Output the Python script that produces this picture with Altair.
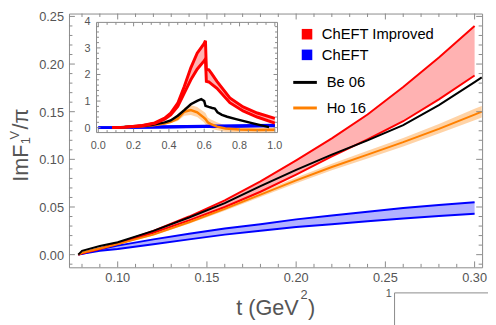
import altair as alt
import pandas as pd

# ---------------- main panel data ----------------
main_t  = [0.0779, 0.08, 0.09, 0.10, 0.12, 0.14, 0.16, 0.18, 0.20, 0.22, 0.24, 0.26, 0.28, 0.30]
red_hi  = [0, 0.0015, 0.0065, 0.012, 0.025, 0.040, 0.057, 0.077, 0.099, 0.122, 0.147, 0.176, 0.207, 0.240]
red_lo  = [0, 0.0015, 0.0060, 0.011, 0.023, 0.036, 0.050, 0.066, 0.084, 0.103, 0.121, 0.140, 0.163, 0.188]
blue_hi = [0, 0.0010, 0.0055, 0.0095, 0.016, 0.022, 0.0275, 0.032, 0.037, 0.041, 0.045, 0.049, 0.052, 0.055]
blue_lo = [0, 0.0010, 0.0040, 0.0060, 0.011, 0.016, 0.021, 0.025, 0.029, 0.032, 0.035, 0.038, 0.0405, 0.043]

line_t    = [0.0779, 0.08, 0.09, 0.10, 0.12, 0.14, 0.16, 0.18, 0.20, 0.22, 0.24, 0.26, 0.28, 0.30, 0.304]
black     = [0, 0.004, 0.009, 0.013, 0.025, 0.039, 0.054, 0.072, 0.089, 0.105, 0.120, 0.136, 0.157, 0.181, 0.186]
orange    = [0, 0.002, 0.0065, 0.011, 0.021, 0.034, 0.048, 0.063, 0.078, 0.092, 0.105, 0.118, 0.132, 0.147, 0.150]
orange_hi = [0, 0.0021, 0.0068, 0.0115, 0.022, 0.0355, 0.050, 0.0655, 0.081, 0.0955, 0.109, 0.1225, 0.137, 0.153, 0.156]
orange_lo = [0, 0.0019, 0.0062, 0.0105, 0.020, 0.0325, 0.046, 0.0605, 0.075, 0.0885, 0.101, 0.1135, 0.127, 0.141, 0.144]

main_xmaj = [0.10, 0.15, 0.20, 0.25, 0.30]
main_xmin = [0.08, 0.09, 0.11, 0.12, 0.13, 0.14, 0.16, 0.17, 0.18, 0.19,
             0.21, 0.22, 0.23, 0.24, 0.26, 0.27, 0.28, 0.29]
main_ymaj = [0.00, 0.05, 0.10, 0.15, 0.20, 0.25]
main_ymin = [-0.01, 0.01, 0.02, 0.03, 0.04, 0.06, 0.07, 0.08, 0.09, 0.11, 0.12, 0.13, 0.14,
             0.16, 0.17, 0.18, 0.19, 0.21, 0.22, 0.23, 0.24]
main_xlabels = ["0.10", "0.15", "0.20", "0.25", "0.30"]
main_ylabels = ["0.00", "0.05", "0.10", "0.15", "0.20", "0.25"]

legend_labels = ["ChEFT Improved", "ChEFT", "Be 06", "Ho 16"]

# ---------------- inset data ----------------
in_red_t  = [0.078, 0.15, 0.25, 0.32, 0.376, 0.41, 0.45, 0.487, 0.524, 0.56, 0.598, 0.607,
             0.612, 0.626, 0.64, 0.672, 0.745, 0.82, 0.90, 1.0]
in_red_hi = [0, 0.02, 0.08, 0.18, 0.36, 0.55, 0.92, 1.55, 2.25, 2.80, 3.15, 3.27,
             2.20, 2.18, 2.05, 1.74, 1.12, 0.78, 0.55, 0.35]
in_red_lo = [0, 0.02, 0.07, 0.16, 0.32, 0.48, 0.80, 1.30, 1.80, 2.20, 2.50, 2.58,
             1.74, 1.72, 1.65, 1.48, 0.94, 0.63, 0.40, 0.17]

in_blue_t  = [0.0, 0.078, 0.2, 0.4, 0.6, 0.8, 1.0]
in_blue_hi = [0, 0, 0.015, 0.035, 0.055, 0.075, 0.095]
in_blue_lo = [0, 0, 0.010, 0.025, 0.040, 0.055, 0.070]

in_black_t = [0.078, 0.2, 0.3, 0.376, 0.41, 0.45, 0.487, 0.524, 0.56, 0.583, 0.6, 0.607,
              0.625, 0.645, 0.66, 0.675, 0.7, 0.73, 0.78, 0.876, 0.967]
in_black   = [0, 0.04, 0.10, 0.20, 0.27, 0.45, 0.66, 0.88, 1.01, 1.07, 1.0, 0.82,
              0.78, 0.74, 0.72, 0.58, 0.48, 0.41, 0.32, 0.16, 0.02]

in_or_t  = [0.078, 0.2, 0.3, 0.376, 0.41, 0.45, 0.487, 0.524, 0.56, 0.598, 0.607, 0.62,
            0.635, 0.672, 0.72, 0.8, 0.9, 1.0]
in_or    = [0, 0.03, 0.08, 0.15, 0.22, 0.34, 0.60, 0.66, 0.58, 0.38, 0.32, 0.20,
            0.14, 0.04, -0.03, -0.07, -0.09, -0.08]
in_or_hi = [0, 0.035, 0.095, 0.18, 0.27, 0.44, 0.75, 0.85, 0.78, 0.60, 0.55, 0.38,
            0.32, 0.20, 0.08, 0.02, 0.0, 0.0]
in_or_lo = [0, 0.025, 0.065, 0.12, 0.17, 0.25, 0.45, 0.48, 0.40, 0.20, 0.12, 0.04,
            -0.02, -0.10, -0.15, -0.17, -0.18, -0.17]

in_xlab = [0.0, 0.2, 0.4, 0.6, 0.8, 1.0]
in_xlabels = ["0.0", "0.2", "0.4", "0.6", "0.8", "1.0"]
in_xmin = [0.05, 0.1, 0.15, 0.25, 0.3, 0.35, 0.45, 0.5, 0.55, 0.65, 0.7, 0.75, 0.85, 0.9, 0.95]
in_ylab = [0, 1, 2, 3, 4]
in_ylabels = ["0", "1", "2", "3", "4"]
in_ymaj = [0, 1, 2, 3]
in_ymin = [0.2, 0.4, 0.6, 0.8, 1.2, 1.4, 1.6, 1.8, 2.2, 2.4, 2.6, 2.8, 3.2, 3.4, 3.6, 3.8]

# ---------------- layout & styles ----------------
RED, BLUE, ORANGE = "#FF0000", "#0000FF", "#FF8000"
FRAME, LABEL = "#8a8a8a", "#555555"
PL, PT = 62, 3            # plot area starts at page (70, 11)
W, H = 420, 258


def ax(x):  # page x -> plot x
    return x - (8 + PL)


def ay(y):  # page y -> plot y
    return y - (8 + PT)


IX0, IX1, IY0, IY1 = ax(98), ax(282), ay(20), ay(132)

main_xs = alt.Scale(domain=[0.0727, 0.3042], nice=False, zero=False)
main_ys = alt.Scale(domain=[-0.0133, 0.253], nice=False, zero=False)
in_xs = alt.Scale(domain=[-0.01, 1.015], range=[IX0, IX1], nice=False, zero=False)
in_ys = alt.Scale(domain=[-0.185, 3.96], range=[IY1, IY0], nice=False, zero=False)

main_df = pd.DataFrame({"t": main_t, "red_hi": red_hi, "red_lo": red_lo,
                        "blue_hi": blue_hi, "blue_lo": blue_lo})
line_df = pd.DataFrame({"t": line_t, "black": black, "orange": orange,
                        "orange_hi": orange_hi, "orange_lo": orange_lo})
one = pd.DataFrame({"k": [0]})


def X(f, s):
    return alt.X(f"{f}:Q", scale=s, axis=None)


def Y(f, s):
    return alt.Y(f"{f}:Q", scale=s, axis=None)


def tick_rules(xmaj, xmin, ymaj, ymin, xs, ys, x0, x1, y0, y1, lmaj, lmin):
    out = []
    for vals, L in ((xmaj, lmaj), (xmin, lmin)):
        base = alt.Chart(pd.DataFrame({"v": vals})).mark_rule(color=FRAME, strokeWidth=1)
        out.append(base.encode(x=X("v", xs), y=alt.value(y1), y2=alt.value(y1 - L)))
        out.append(base.encode(x=X("v", xs), y=alt.value(y0), y2=alt.value(y0 + L)))
    for vals, L in ((ymaj, lmaj), (ymin, lmin)):
        base = alt.Chart(pd.DataFrame({"v": vals})).mark_rule(color=FRAME, strokeWidth=1)
        out.append(base.encode(y=Y("v", ys), x=alt.value(x0), x2=alt.value(x0 + L)))
        out.append(base.encode(y=Y("v", ys), x=alt.value(x1), x2=alt.value(x1 - L)))
    return out


def xlabels(vals, labs, xs, ybase, size):
    df = pd.DataFrame({"v": vals, "lab": labs})
    return alt.Chart(df).mark_text(align="center", baseline="alphabetic", fontSize=size,
                                   color=LABEL).encode(x=X("v", xs), y=alt.value(ybase), text="lab:N")


def ylabels(vals, labs, ys, xright, size, dy):
    df = pd.DataFrame({"v": vals, "lab": labs})
    return alt.Chart(df).mark_text(align="right", baseline="middle", fontSize=size, dy=dy,
                                   color=LABEL).encode(y=Y("v", ys), x=alt.value(xright), text="lab:N")


def txt(s, x, y, size, color=LABEL, align="left", baseline="alphabetic", angle=0):
    return alt.Chart(one).mark_text(align=align, baseline=baseline, fontSize=size, color=color,
                                    angle=angle).encode(
        x=alt.value(x), y=alt.value(y), text=alt.value(s))


# ---------------- main layers ----------------
red_area = alt.Chart(main_df).mark_area(color=RED, opacity=0.3).encode(
    x=X("t", main_xs), y=Y("red_lo", main_ys), y2="red_hi:Q")
blue_area = alt.Chart(main_df).mark_area(color=BLUE, opacity=0.3).encode(
    x=X("t", main_xs), y=Y("blue_lo", main_ys), y2="blue_hi:Q")
or_area = alt.Chart(line_df).mark_area(color=ORANGE, opacity=0.35).encode(
    x=X("t", main_xs), y=Y("orange_lo", main_ys), y2="orange_hi:Q")


def mline(df, f, color, w):
    return alt.Chart(df).mark_line(color=color, strokeWidth=w).encode(
        x=X("t", main_xs), y=Y(f, main_ys))


main_layers = [red_area, blue_area, or_area,
               mline(main_df, "blue_hi", BLUE, 2), mline(main_df, "blue_lo", BLUE, 2),
               mline(main_df, "red_hi", RED, 2), mline(main_df, "red_lo", RED, 2),
               mline(line_df, "orange", ORANGE, 2), mline(line_df, "black", "black", 2)]
main_layers += tick_rules(main_xmaj, main_xmin, main_ymaj, main_ymin, main_xs, main_ys,
                          0, W, 0, H, 6, 3.5)
main_layers += [xlabels(main_xmaj, main_xlabels, main_xs, ay(284), 13),
                ylabels(main_ymaj, main_ylabels, main_ys, ax(65), 13, 1)]

# legend
leg = alt.Chart(one)
main_layers += [
    leg.mark_square(size=115, color=RED, opacity=1).encode(x=alt.value(ax(312)), y=alt.value(ay(32))),
    leg.mark_square(size=115, color=BLUE, opacity=1).encode(x=alt.value(ax(312)), y=alt.value(ay(53))),
    leg.mark_rule(color="black", strokeWidth=3).encode(
        x=alt.value(ax(298)), x2=alt.value(ax(322)), y=alt.value(ay(81))),
    leg.mark_rule(color=ORANGE, strokeWidth=3).encode(
        x=alt.value(ax(298)), x2=alt.value(ax(322)), y=alt.value(ay(107))),
]
for lab, xx, yy in zip(legend_labels, [327, 327, 332, 332], [32, 53, 81, 107]):
    main_layers.append(txt(lab, ax(xx), ay(yy), 15, color="black", baseline="middle"))

# axis titles
main_layers += [
    txt("ImF", ax(28.5), ay(182), 22, angle=270),
    txt("V", ax(19), ay(139), 13, angle=270),
    txt("1", ax(30), ay(144), 13, angle=270),
    txt("/π", ax(28.5), ay(129), 22, angle=270),
    txt("t (GeV", ax(240), ay(317), 22),
    txt("2", ax(305.5), ay(301), 13),
    txt(")", ax(313), ay(317), 22),
]

# stray frame of the neighbouring panel (bottom right corner)
main_layers += [
    leg.mark_rule(color=FRAME, strokeWidth=1).encode(
        x=alt.value(ax(401)), x2=alt.value(ax(500)), y=alt.value(ay(295))),
    leg.mark_rule(color=FRAME, strokeWidth=1).encode(
        x=alt.value(ax(401)), y=alt.value(ay(295)), y2=alt.value(ay(330))),
    txt("1", ax(395), ay(296), 11, align="center", baseline="middle"),
]

main_group = alt.layer(*main_layers)

# ---------------- inset layers ----------------
in_red_df = pd.DataFrame({"t": in_red_t, "hi": in_red_hi, "lo": in_red_lo})
in_blue_df = pd.DataFrame({"t": in_blue_t, "hi": in_blue_hi, "lo": in_blue_lo})
in_black_df = pd.DataFrame({"t": in_black_t, "v": in_black})
in_or_df = pd.DataFrame({"t": in_or_t, "v": in_or, "hi": in_or_hi, "lo": in_or_lo})

in_bg = alt.Chart(one).mark_rect(fill="white", stroke=FRAME, strokeWidth=1).encode(
    x=alt.value(IX0), x2=alt.value(IX1), y=alt.value(IY0), y2=alt.value(IY1))
in_red_area = alt.Chart(in_red_df).mark_area(color=RED, opacity=0.3).encode(
    x=X("t", in_xs), y=Y("lo", in_ys), y2="hi:Q")
in_or_area = alt.Chart(in_or_df).mark_area(color=ORANGE, opacity=0.35).encode(
    x=X("t", in_xs), y=Y("lo", in_ys), y2="hi:Q")
in_blue_area = alt.Chart(in_blue_df).mark_area(color=BLUE, opacity=0.3).encode(
    x=X("t", in_xs), y=Y("lo", in_ys), y2="hi:Q")


def iline(df, f, color, w):
    return alt.Chart(df).mark_line(color=color, strokeWidth=w).encode(
        x=X("t", in_xs), y=Y(f, in_ys))


in_layers = [in_bg, in_red_area, in_or_area, in_blue_area,
             iline(in_blue_df, "hi", BLUE, 3), iline(in_blue_df, "lo", BLUE, 3),
             iline(in_or_df, "v", ORANGE, 2.5),
             iline(in_black_df, "v", "black", 2.5),
             iline(in_red_df, "hi", RED, 3), iline(in_red_df, "lo", RED, 3)]
in_layers += tick_rules(in_xlab, in_xmin, in_ymaj, in_ymin, in_xs, in_ys,
                        IX0, IX1, IY0, IY1, 4, 2.5)
in_layers += [xlabels(in_xlab, in_xlabels, in_xs, ay(149), 11),
              ylabels(in_ylab, in_ylabels, in_ys, ax(92), 11, 1)]

inset_group = alt.layer(*in_layers)

chart = alt.layer(main_group, inset_group).resolve_scale(
    x="independent", y="independent"
).properties(
    width=W, height=H,
    padding={"left": PL, "top": PT, "right": 6, "bottom": 317 - PT - H},
    autosize=alt.AutoSizeParams(type="none"),
).configure(font="Liberation Sans").configure_view(stroke=FRAME, strokeWidth=1)

chart.save("out.html", embed_options={"renderer": "svg", "actions": False})
